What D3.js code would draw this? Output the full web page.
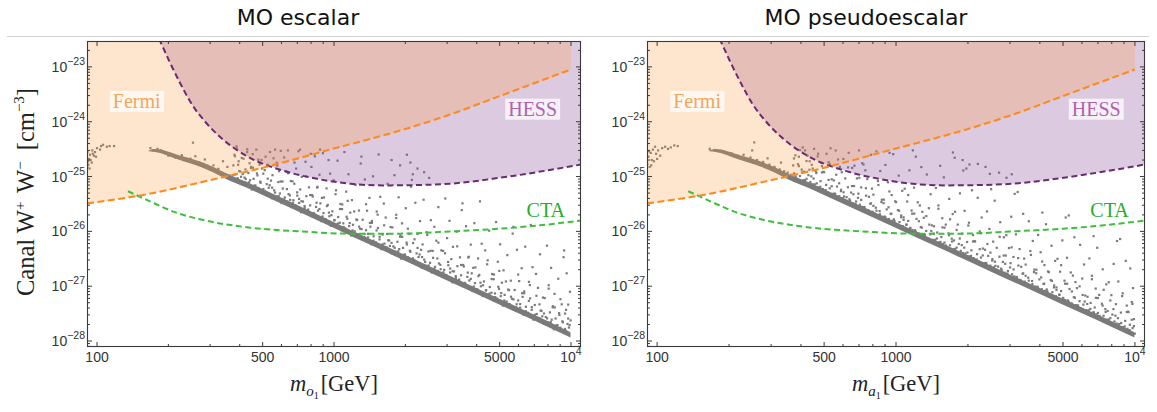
<!DOCTYPE html>
<html><head><meta charset="utf-8">
<script src="https://cdn.jsdelivr.net/npm/d3@7"></script>
<style>body{margin:0;background:#fff}svg{display:block}</style>
</head><body>
<script>
// ---------------- DATA ----------------
const panelTitles = ["MO escalar", "MO pseudoescalar"];
const xAxisSubscripts = ["o", "a"];
const xMajorTicks = [100, 500, 1000, 5000, 10000];
const xMajorLabels = [["100"], ["500"], ["1000"], ["5000"], ["10", "4"]];
const xMinorTicks = [200, 300, 400, 600, 700, 800, 900, 2000, 3000, 4000, 6000, 7000, 8000, 9000];
const yDecadeExponents = [-28, -27, -26, -25, -24, -23];
const xDomain = [90.7, 11020];
const yDomain = [7.78e-29, 2.97e-23];

// Fermi-LAT limit (GeV, cm^3/s)
const fermiMass  = [90.7, 168, 272, 501, 961, 1897, 3083, 5012, 10000];
const fermiSigma = [3.24e-26, 4.9e-26, 7.8e-26, 1.45e-25, 3.1e-25, 6.9e-25, 1.35e-24, 2.95e-24, 9.0e-24];
// HESS limit
const hessMass  = [176, 184.5, 224, 252, 286, 330, 442, 610, 848, 1170, 1611, 2240, 3080, 5010, 11020];
const hessSigma = [4.7e-23, 2.97e-23, 5.1e-24, 2.04e-24, 1.0e-24, 5.3e-25, 2.2e-25, 1.28e-25, 9.1e-26, 7.4e-26, 6.9e-26, 7.0e-26, 7.4e-26, 9.5e-26, 1.66e-25];
// CTA projection
const ctaMass  = [135, 168, 213, 272, 442, 719, 1170, 1900, 3080, 5010, 7400, 11020];
const ctaSigma = [5.4e-26, 3.5e-26, 2.24e-26, 1.66e-26, 1.17e-26, 1.0e-26, 9.1e-27, 9.1e-27, 1.0e-26, 1.12e-26, 1.29e-26, 1.58e-26];

// Dense lower band of the scan (sigma in units of 1e-27 cm^3/s)
const SIGMA_UNIT = 1e-27;
const bandMass = [165, 176, 220, 272, 310, 354, 450, 610, 1000, 1500, 2500, 4000, 6000, 8000, 9950];
const bandLow  = [290, 282, 205, 151, 118, 88, 56.8, 30.9, 11.5, 5.11, 1.84, 0.72, 0.32, 0.18, 0.116];
const bandHigh = [300, 318, 248, 188, 149, 112, 72.7, 39.6, 14.7, 6.54, 2.36, 0.92, 0.41, 0.23, 0.145];

// Scan points [mass GeV, sigma in 1e-27 cm^3/s]
const scalarPoints = [
[91.6,190],[92,165],[93.4,250],[95,180],[96,260],[98,280],[99,230],[100,330],[103,310],[104,360],[106,380],[110,350],[113,360],[118,360],[90.5,230],[91,150],[92.5,210],[94,200],[97,240],[91,280],[93,140],[95.5,300],
[168,330],[180,320],[186,300],[195,275],[205,255],[212,235],[225,215],[238,195],[250,185],[262,172],[275,160],[290,145],[300,135],[315,125],[330,113],[345,104],[360,97],[254,415],[340,190],[355,150],[285,205],[260,235],[310,160],[325,138],[228,245],[248,212],[270,180],[292,158],[335,120],[350,110],[362,105],[240,205],[258,190],[282,170],[305,140],[322,128],[172,300],[200,240],[215,220],[232,200],
[388,355],[564,310],[719,310],[873,310],[2030,250],[2100,180],[2250,140],[2150,110],[1900,160],[2400,120],[1750,200],
[371,86.5],[393,92.4],[405,99.1],[383,109],[398,126],[376,160],[408,218],[388,328],[380,250],[396,190],
[412,71.8],[426,77.3],[442,85.5],[419,95.8],[435,116],[447,150],[415,212],[430,280],[440,175],[423,135],
[450,57.9],[480,61.3],[466,68.7],[490,77.2],[458,90.9],[473,114],[485,165],[454,256],[470,310],[494,200],
[499,49.7],[510,54.4],[530,62.4],[520,72.7],[542,84.4],[503,113],[525,164],[537,281],[514,230],[497,140],
[547,40.2],[571,43.3],[591,49.1],[559,56.1],[582,79.3],[550,106],[576,159],[596,294],[556,215],[586,125],
[601,32.9],[635,35.1],[653,37.6],[620,41.5],[643,47.9],[608,60.6],[657,82.9],[627,124],[616,223],[639,300],
[663,27.7],[686,29.8],[712,33],[674,37],[700,44.9],[720,58.1],[668,81.8],[692,140],[708,290],[681,180],
[726,22.3],[775,23.7],[752,26.5],[793,29.8],[739,35],[764,43.8],[784,63.5],[731,98.6],[758,186],[798,260],
[806,19.1],[824,20.9],[856,23.9],[840,27.9],[876,32.4],[813,43.2],[848,63],[868,108],[830,234],[803,150],
[883,15.4],[923,16.6],[956,18.9],[903,21.5],[941,30.4],[889,40.8],[930,60.9],[963,113],[898,267],[948,200],
[972,12.6],[1028,13.4],[1058,14.4],[1003,15.9],[1041,18.3],[984,23.2],[1065,31.7],[1015,47.6],[996,85.4],[1035,195],
[1076,10.5],[1114,11.3],[1158,12.5],[1094,14],[1138,17],[1171,22],[1083,31],[1125,53],[1151,110],[1106,280],
[1181,8.43],[1259,8.92],[1223,10],[1288,11.2],[1202,13.2],[1242,16.5],[1274,24],[1190,37.2],[1233,70.2],[1296,173],
[1310,7.21],[1339,7.89],[1391,9.04],[1365,10.5],[1424,12.2],[1321,16.3],[1378,23.8],[1411,40.8],[1349,88.4],[1305,231],
[1435,5.84],[1502,6.29],[1556,7.14],[1469,8.15],[1532,11.5],[1445,15.5],[1514,23],[1568,42.7],[1460,101],[1543,253],
[1583,4.74],[1673,5.06],[1721,5.43],[1633,5.98],[1694,6.9],[1602,8.74],[1732,12],[1652,17.9],[1622,32.2],[1684,73.6],
[1749,3.99],[1812,4.29],[1884,4.75],[1780,5.32],[1852,6.46],[1906,8.36],[1762,11.8],[1830,20.1],[1873,41.8],[1799,106],
[1922,3.18],[2052,3.37],[1992,3.78],[2100,4.24],[1956,4.99],[2024,6.24],[2076,9.05],[1936,14],[2008,26.5],[2114,65.5],
[2138,2.71],[2186,2.97],[2274,3.4],[2230,3.97],[2329,4.61],[2155,6.14],[2252,8.96],[2307,15.4],[2204,33.3],[2129,87],
[2347,2.18],[2455,2.35],[2542,2.67],[2402,3.05],[2503,4.31],[2364,5.78],[2474,8.61],[2561,16],[2388,37.8],[2520,94.5],
[2585,1.78],[2737,1.9],[2818,2.04],[2669,2.25],[2772,2.6],[2618,3.29],[2837,4.5],[2702,6.75],[2650,12.1],[2756,27.7],
[2865,1.49],[2970,1.6],[3090,1.78],[2916,1.99],[3036,2.41],[3126,3.12],[2886,4.4],[3000,7.53],[3072,15.6],[2949,39.8],
[3153,1.18],[3361,1.25],[3265,1.4],[3438,1.58],[3208,1.86],[3316,2.32],[3400,3.36],[3176,5.22],[3291,9.86],[3460,24.4],
[3499,1.01],[3578,1.11],[3722,1.27],[3650,1.48],[3812,1.72],[3528,2.29],[3686,3.34],[3776,5.73],[3607,12.4],[3484,32.5],
[3842,0.815],[4022,0.878],[4166,0.996],[3934,1.14],[4102,1.61],[3870,2.16],[4054,3.21],[4198,5.96],[3910,14.1],[4130,35.3],
[4239,0.662],[4485,0.707],[4617,0.759],[4375,0.836],[4542,0.965],[4292,1.22],[4648,1.67],[4428,2.51],[4344,4.5],[4516,10.3],
[4694,0.553],[4862,0.596],[5054,0.659],[4776,0.738],[4968,0.896],[5112,1.16],[4728,1.63],[4910,2.79],[5025,5.8],[4828,14.8],
[5155,0.443],[5506,0.469],[5344,0.525],[5636,0.59],[5247,0.694],[5431,0.868],[5571,1.26],[5193,1.95],[5388,3.69],[5674,9.11],
[5737,0.376],[5867,0.412],[6103,0.472],[5985,0.55],[6250,0.639],[5784,0.852],[6044,1.24],[6192,2.13],[5914,4.62],[5714,12.1],
[6300,0.304],[6592,0.327],[6826,0.371],[6449,0.423],[6722,0.599],[6345,0.803],[6644,1.2],[6878,2.22],[6410,5.26],[6768,13.1],
[6944,0.246],[7348,0.263],[7564,0.282],[7168,0.311],[7441,0.359],[7031,0.454],[7614,0.621],[7254,0.932],[7117,1.67],[7398,3.82],
[7690,0.206],[7970,0.221],[8290,0.245],[7826,0.274],[8146,0.333],[8386,0.431],[7746,0.608],[8050,1.04],[8242,2.16],[7914,5.49],
[8459,0.164],[9031,0.174],[8767,0.195],[9242,0.219],[8608,0.258],[8908,0.322],[9136,0.467],[8520,0.725],[8837,1.37],[9304,3.38],
[9384,0.14],[9531,0.153],[9799,0.176],[9665,0.205],[9967,0.238],[9437,0.317],[9732,0.462],[9900,0.792],[9585,1.72],[9357,4.49]
];
const scalarPointsMid = [
[388,91.6],[376,106],[402,124],[394,164],[382,235],[438,78],[424,90.3],[412,111],[446,144],[430,315],[461,68.2],[488,80.7],[475,105],[455,145],[479,204],
[518,51.1],[503,59.1],[535,69.4],[525,91.5],[510,131],[584,44.1],[564,51.1],[548,62.7],[595,81.3],[573,178],[615,38.3],[651,45.3],[633,59],[606,81.3],[639,115],
[689,28.8],[670,33.3],[712,39.1],[699,51.5],[680,73.9],[778,25],[751,28.9],[729,35.5],[793,46],[763,101],[820,21.6],[868,25.6],[844,33.3],[808,45.9],[852,64.8],
[920,16.2],[894,18.7],[952,22],[934,29],[907,41.6],[1040,13.9],[1005,16.1],[975,19.8],[1060,25.6],[1020,56.1],[1098,12],[1164,14.2],[1130,18.5],[1081,25.5],[1142,36],
[1234,9],[1198,10.4],[1276,12.2],[1252,16.1],[1216,23.1],[1391,7.75],[1346,8.98],[1307,11],[1417,14.3],[1365,31.3],[1468,6.74],[1558,7.98],[1512,10.4],[1445,14.3],[1528,20.2],
[1652,5.01],[1604,5.8],[1708,6.81],[1676,8.97],[1628,12.9],[1866,4.33],[1803,5.02],[1749,6.16],[1902,7.98],[1830,17.5],[1970,3.74],[2090,4.43],[2030,5.77],[1940,7.96],[2050,11.2],
[2219,2.79],[2153,3.23],[2296,3.79],[2252,4.99],[2186,7.17],[2508,2.39],[2424,2.77],[2352,3.4],[2556,4.41],[2460,9.66],[2648,2.08],[2810,2.46],[2729,3.2],[2607,4.41],[2756,6.23],
[2985,1.55],[2895,1.79],[3090,2.1],[3030,2.77],[2940,3.98],[3374,1.32],[3262,1.53],[3166,1.88],[3438,2.44],[3310,5.34],[3560,1.15],[3776,1.36],[3668,1.77],[3506,2.44],[3704,3.44],
[4010,0.855],[3890,0.988],[4150,1.16],[4070,1.53],[3950,2.2],[4538,0.733],[4384,0.849],[4252,1.04],[4626,1.35],[4450,2.96],[4790,0.632],[5078,0.748],[4934,0.975],[4718,1.34],[4982,1.9],
[5393,0.473],[5231,0.547],[5582,0.642],[5474,0.846],[5312,1.22],[6103,0.405],[5897,0.469],[5720,0.575],[6221,0.746],[5985,1.63],[6443,0.35],[6833,0.415],[6638,0.54],[6345,0.745],[6703,1.05],
[7254,0.261],[7038,0.301],[7506,0.354],[7362,0.466],[7146,0.669],[8210,0.223],[7930,0.259],[7690,0.318],[8370,0.412],[8050,0.902],[8670,0.193],[9198,0.229],[8934,0.298],[8538,0.411],[9022,0.58],
[9632,0.144],[9430,0.166],[9866,0.195],[9732,0.257],[9531,0.37]
];
const pseudoPoints = [
[91,170],[92,230],[93,150],[94,270],[95,200],[96,310],[97,190],[99,260],[101,300],[103,240],[105,330],[108,350],[111,320],[114,340],[118,370],[122,360],[92.5,290],[94.5,160],[98,350],[100,210],
[166,320],[174,305],[183,290],[192,270],[203,250],[214,228],[226,210],[240,196],[253,182],[268,168],[282,155],[298,140],[312,128],[328,116],[342,106],[358,99],[230,250],[246,222],[262,200],[278,185],[295,165],[310,150],[326,135],[340,125],[352,118],[365,108],[205,265],[218,240],[250,300],[290,215],[330,180],[255,420],
[1730,275],[1760,220],[2030,166],[2200,170],[2370,150],[2470,112],[2700,118],[3050,110],[2900,95],[1900,200],
[409,85.7],[384,90.7],[396,102],[374,114],[403,134],[389,168],[379,244],[407,340],[392,230],[371,160],
[447,72.5],[438,79.3],[422,91],[430,106],[412,123],[444,164],[426,239],[416,300],[435,190],[448,140],
[494,59.1],[473,63.6],[457,72.1],[483,82.4],[464,116],[490,156],[470,233],[454,320],[486,180],[461,125],
[544,48.3],[516,51.6],[501,55.3],[528,61],[510,70.4],[538,89.1],[497,122],[522,183],[532,328],[512,260],
[597,40.6],[578,43.7],[556,48.4],[588,54.2],[566,65.8],[549,85.1],[593,120],[572,205],[559,300],[582,150],
[659,32.5],[620,34.5],[638,38.6],[606,43.4],[649,51],[629,63.8],[613,92.5],[655,144],[634,271],[602,210],
[720,28],[706,30.6],[680,35.1],[693,40.9],[663,47.5],[715,63.4],[686,92.4],[670,158],[700,300],[722,175],
[798,22.8],[764,24.5],[737,27.8],[781,31.8],[749,44.9],[793,60.2],[758,89.8],[731,166],[785,250],[744,130],
[878,18.5],[834,19.8],[810,21.2],[854,23.4],[823,27],[869,34.2],[804,46.8],[844,70.2],[859,126],[828,288],
[966,15.6],[934,16.8],[898,18.6],[950,20.8],[914,25.2],[887,32.7],[959,46],[925,78.7],[903,163],[940,270],
[1069,12.4],[1004,13.2],[1034,14.8],[980,16.6],[1052,19.5],[1018,24.4],[992,35.4],[1062,54.9],[1026,104],[973,256],
[1171,10.6],[1147,11.6],[1103,13.3],[1125,15.5],[1076,18],[1162,24],[1114,35],[1087,60],[1138,130],[1176,300],
[1296,8.59],[1242,9.25],[1199,10.5],[1269,12],[1218,16.9],[1288,22.7],[1233,33.9],[1190,62.8],[1276,149],[1210,230],
[1427,7],[1355,7.48],[1316,8.02],[1387,8.84],[1338,10.2],[1412,12.9],[1307,17.7],[1372,26.5],[1396,47.6],[1346,109],
[1573,5.9],[1520,6.35],[1460,7.03],[1547,7.87],[1487,9.55],[1442,12.4],[1562,17.4],[1505,29.8],[1469,61.8],[1531,157],
[1738,4.69],[1634,4.97],[1682,5.57],[1596,6.26],[1711,7.36],[1657,9.2],[1615,13.3],[1727,20.7],[1670,39.1],[1585,96.6],
[1906,4.03],[1866,4.41],[1794,5.05],[1830,5.89],[1749,6.84],[1891,9.12],[1812,13.3],[1767,22.8],[1852,49.4],[1913,129],
[2114,3.24],[2024,3.49],[1952,3.96],[2068,4.52],[1984,6.4],[2100,8.58],[2008,12.8],[1936,23.7],[2080,56.2],[1970,140],
[2336,2.64],[2212,2.82],[2146,3.02],[2267,3.33],[2184,3.84],[2309,4.86],[2131,6.66],[2241,9.98],[2283,17.9],[2197,41],
[2568,2.21],[2484,2.37],[2388,2.63],[2527,2.94],[2431,3.57],[2359,4.62],[2551,6.51],[2460,11.1],[2402,23.1],[2501,58.8],
[2847,1.76],[2672,1.87],[2753,2.09],[2607,2.35],[2801,2.77],[2710,3.46],[2639,5.02],[2828,7.79],[2731,14.7],[2588,36.3],
[3126,1.51],[3060,1.65],[2940,1.89],[3000,2.2],[2865,2.56],[3102,3.41],[2970,4.97],[2895,8.52],[3036,18.5],[3138,48.3],
[3460,1.21],[3316,1.3],[3201,1.47],[3387,1.68],[3252,2.38],[3438,3.19],[3291,4.76],[3176,8.82],[3406,20.9],[3230,52.2],
[3823,0.984],[3621,1.05],[3513,1.13],[3711,1.24],[3574,1.43],[3780,1.81],[3488,2.48],[3668,3.72],[3736,6.69],[3596,15.3],
[4210,0.823],[4070,0.886],[3910,0.98],[4142,1.1],[3982,1.33],[3862,1.72],[4182,2.43],[4030,4.16],[3934,8.62],[4098,22],
[4666,0.656],[4380,0.694],[4512,0.778],[4274,0.874],[4591,1.03],[4441,1.29],[4327,1.86],[4635,2.89],[4476,5.47],[4243,13.5],
[5112,0.559],[5006,0.611],[4814,0.701],[4910,0.817],[4694,0.949],[5073,1.26],[4862,1.84],[4742,3.16],[4968,6.85],[5131,17.9],
[5674,0.451],[5431,0.486],[5236,0.551],[5550,0.629],[5323,0.89],[5636,1.19],[5388,1.78],[5193,3.3],[5582,7.81],[5285,19.5],
[6268,0.366],[5938,0.391],[5761,0.419],[6085,0.462],[5861,0.533],[6197,0.675],[5720,0.923],[6015,1.38],[6127,2.49],[5897,5.68],
[6898,0.307],[6670,0.33],[6410,0.365],[6787,0.409],[6527,0.496],[6332,0.642],[6852,0.905],[6605,1.55],[6449,3.21],[6716,8.18],
[7643,0.244],[7175,0.258],[7391,0.289],[7002,0.325],[7520,0.382],[7276,0.478],[7088,0.693],[7592,1.08],[7333,2.03],[6952,5.02],
[8386,0.208],[8210,0.227],[7890,0.261],[8050,0.304],[7690,0.353],[8322,0.47],[7970,0.686],[7770,1.18],[8146,2.55],[8418,6.66],
[9304,0.167],[8908,0.18],[8591,0.204],[9101,0.233],[8732,0.33],[9242,0.443],[8837,0.66],[8520,1.22],[9154,2.9],[8670,7.25],
[9987,0.136],[9611,0.145],[9410,0.156],[9779,0.172],[9524,0.198],[9906,0.251],[9364,0.343],[9699,0.515],[9826,0.924],[9565,2.11]
];
const pseudoPointsMid = [
[380,101],[404,119],[392,155],[374,214],[396,302],[428,74.6],[416,86.2],[442,101],[434,133],[422,192],[482,64.8],[466,75],[452,92],[490,119],[472,261],
[508,56.3],[538,66.6],[522,86.8],[500,120],[528,169],[570,42.2],[553,48.8],[589,57.3],[578,75.5],[562,108],[642,36.4],[621,42.1],[603,51.7],[654,67],[630,147],
[676,31.7],[715,37.5],[696,48.8],[667,67.3],[702,95],[759,23.9],[736,27.6],[785,32.4],[770,42.7],[748,61.3],[856,20.5],[828,23.8],[804,29.2],[872,37.8],[840,82.8],
[902,17.8],[956,21.1],[930,27.5],[889,37.9],[938,53.5],[1015,13.3],[985,15.4],[1050,18.1],[1030,23.8],[1000,34.2],[1147,11.4],[1108,13.2],[1076,16.2],[1169,21],[1125,46],
[1210,9.91],[1282,11.7],[1246,15.3],[1192,21.1],[1258,29.7],[1358,7.41],[1320,8.57],[1404,10.1],[1378,13.3],[1339,19],[1535,6.41],[1482,7.42],[1438,9.1],[1565,11.8],[1505,25.9],
[1620,5.52],[1716,6.53],[1668,8.51],[1596,11.7],[1684,16.6],[1821,4.14],[1767,4.79],[1884,5.62],[1848,7.41],[1794,10.6],[2060,3.56],[1990,4.12],[1930,5.05],[2100,6.55],[2020,14.4],
[2175,3.07],[2307,3.64],[2241,4.74],[2142,6.53],[2263,9.22],[2448,2.29],[2376,2.65],[2532,3.11],[2484,4.1],[2412,5.88],[2769,1.97],[2675,2.28],[2594,2.8],[2823,3.63],[2715,7.96],
[2925,1.7],[3105,2.02],[3015,2.63],[2880,3.62],[3045,5.11],[3294,1.26],[3198,1.46],[3406,1.72],[3342,2.26],[3246,3.25],[3722,1.09],[3596,1.26],[3488,1.55],[3794,2.01],[3650,4.39],
[3930,0.941],[4170,1.11],[4050,1.45],[3870,2],[4090,2.82],[4428,0.701],[4296,0.81],[4582,0.952],[4494,1.25],[4362,1.8],[5006,0.601],[4838,0.696],[4694,0.854],[5102,1.11],[4910,2.42],
[5285,0.521],[5609,0.616],[5447,0.803],[5204,1.11],[5501,1.56],[5956,0.387],[5779,0.447],[6162,0.525],[6044,0.692],[5867,0.994],[6735,0.333],[6508,0.385],[6313,0.473],[6865,0.613],[6605,1.34],
[7110,0.287],[7542,0.339],[7326,0.442],[7002,0.609],[7398,0.86],[8010,0.214],[7770,0.247],[8290,0.29],[8130,0.382],[7890,0.549],[9066,0.184],[8758,0.213],[8494,0.261],[9242,0.338],[8890,0.741],
[9498,0.158],[9900,0.187],[9699,0.244],[9397,0.337],[9766,0.475]
];

// region labels [text, mass, sigma]
const regionLabels = [["Fermi", 147, 2.4e-24], ["HESS", 6890, 1.73e-24], ["CTA", 7830, 2.5e-26]];

// ---------------- DRAW ----------------
const W = 1157, H = 412, TOP = 41, BOTTOM = 347;
const panels = [
  {x0: 87, x1: 581, titleX: 298, pts: scalarPoints.concat(scalarPointsMid)},
  {x0: 647, x1: 1145, titleX: 866, pts: pseudoPoints.concat(pseudoPointsMid)}
];
const C = {
  pt: "#7a7a7a", fermiFill: "rgb(251,151,59)", hessFill: "rgb(138,82,152)",
  fermiLine: "#ff8a1c", hessLine: "#6a2b74", ctaLine: "#3dbf3d",
  fermiText: "#f7a55a", hessText: "#b062b0", ctaText: "#25ad25", axis: "#3a3a3a", tick: "#333"
};
const sans = "'Liberation Sans', Arial, sans-serif";
const serif = "'Liberation Serif', 'Times New Roman', serif";

const svg = d3.select("body").append("svg").attr("width", W).attr("height", H);
svg.append("line").attr("x1", 7).attr("x2", 1149).attr("y1", 36.5).attr("y2", 36.5).attr("stroke", "#d2d2d2").attr("stroke-width", 1);

function rich(text, parts) {
  let shift = 0;
  parts.forEach(p => {
    const ts = text.append("tspan").text(p.t);
    const target = p.dy || 0;
    if (target !== shift) ts.attr("dy", target - shift);
    shift = target;
    if (p.size) ts.attr("font-size", p.size);
    if (p.italic) ts.attr("font-style", "italic");
    if (p.dx) ts.attr("dx", p.dx);
  });
}

const yMinor = [];
for (let e = -29; e <= -23; e++) for (let k = 2; k <= 9; k++) {
  const v = k * Math.pow(10, e);
  if (v > yDomain[0] && v < yDomain[1]) yMinor.push(v);
}

panels.forEach((p, i) => {
  const x = d3.scaleLog().domain(xDomain).range([p.x0, p.x1]);
  const y = d3.scaleLog().domain(yDomain).range([BOTTOM, TOP]);
  const g = svg.append("g");
  const clipId = "clip" + i;
  svg.append("clipPath").attr("id", clipId).append("rect")
    .attr("x", p.x0).attr("y", TOP).attr("width", p.x1 - p.x0).attr("height", BOTTOM - TOP);
  const plot = g.append("g").attr("clip-path", `url(#${clipId})`);

  // dense band
  const bi = d3.range(bandMass.length);
  plot.append("path").datum(bi)
    .attr("d", d3.area().x(j => x(bandMass[j])).y0(j => y(bandLow[j] * SIGMA_UNIT)).y1(j => y(bandHigh[j] * SIGMA_UNIT)).curve(d3.curveMonotoneX))
    .attr("fill", C.pt);
  // points
  plot.selectAll("rect.pt").data(p.pts).join("rect").attr("class", "pt")
    .attr("x", d => x(d[0]) - 1.1).attr("y", d => y(d[1] * SIGMA_UNIT) - 1.1)
    .attr("width", 2.2).attr("height", 2.2).attr("fill", C.pt);

  // HESS excluded region
  const hi = d3.range(hessMass.length);
  plot.append("path").datum(hi)
    .attr("d", d3.area().x(j => x(hessMass[j])).y0(TOP - 10).y1(j => y(hessSigma[j])).curve(d3.curveMonotoneX))
    .attr("fill", C.hessFill).attr("fill-opacity", 0.3);
  // Fermi excluded region
  const fi = d3.range(fermiMass.length);
  plot.append("path").datum(fi)
    .attr("d", d3.area().x(j => x(fermiMass[j])).y0(TOP - 10).y1(j => y(fermiSigma[j])).curve(d3.curveMonotoneX))
    .attr("fill", C.fermiFill).attr("fill-opacity", 0.25);

  // limit lines
  const line = (ms, ss) => d3.line().x(j => x(ms[j])).y(j => y(ss[j])).curve(d3.curveMonotoneX)(d3.range(ms.length));
  plot.append("path").attr("d", line(ctaMass, ctaSigma)).attr("fill", "none").attr("stroke", C.ctaLine).attr("stroke-width", 2).attr("stroke-dasharray", "6,3.5");
  plot.append("path").attr("d", line(hessMass, hessSigma)).attr("fill", "none").attr("stroke", C.hessLine).attr("stroke-width", 2).attr("stroke-dasharray", "6,3.5");
  plot.append("path").attr("d", line(fermiMass, fermiSigma)).attr("fill", "none").attr("stroke", C.fermiLine).attr("stroke-width", 2.1).attr("stroke-dasharray", "7,3.5");

  // region labels
  const colors = [C.fermiText, C.hessText, C.ctaText];
  regionLabels.forEach((r, k) => {
    const t = g.append("text").attr("x", x(r[1])).attr("y", y(r[2])).attr("dy", "0.35em")
      .attr("text-anchor", "middle").attr("font-family", serif).attr("font-size", 20).attr("fill", colors[k]).text(r[0]);
    if (k < 2) {
      const bb = t.node().getBBox();
      g.insert("rect", "text").attr("x", bb.x - 3).attr("y", bb.y + 1).attr("width", bb.width + 6).attr("height", bb.height - 1)
        .attr("fill", "#fff").attr("fill-opacity", 0.72);
    }
  });

  // frame
  g.append("rect").attr("x", p.x0 + 0.5).attr("y", TOP + 0.5).attr("width", p.x1 - p.x0 - 1).attr("height", BOTTOM - TOP - 1)
    .attr("fill", "none").attr("stroke", C.axis).attr("stroke-width", 1.1);

  // ticks (inward, all four sides)
  const tk = g.append("g").attr("stroke", C.axis).attr("stroke-width", 1);
  const xt = xMajorTicks.map(v => [v, 5]).concat(xMinorTicks.map(v => [v, 3]));
  xt.forEach(([v, L]) => {
    tk.append("line").attr("x1", x(v)).attr("x2", x(v)).attr("y1", BOTTOM).attr("y2", BOTTOM - L);
    tk.append("line").attr("x1", x(v)).attr("x2", x(v)).attr("y1", TOP).attr("y2", TOP + L);
  });
  const yt = yDecadeExponents.map(e => [Math.pow(10, e), 5]).concat(yMinor.map(v => [v, 3]));
  yt.forEach(([v, L]) => {
    tk.append("line").attr("y1", y(v)).attr("y2", y(v)).attr("x1", p.x0).attr("x2", p.x0 + L);
    tk.append("line").attr("y1", y(v)).attr("y2", y(v)).attr("x1", p.x1).attr("x2", p.x1 - L);
  });

  // tick labels
  xMajorTicks.forEach((v, k) => {
    const t = g.append("text").attr("x", x(v)).attr("y", 362).attr("text-anchor", "middle")
      .attr("font-family", sans).attr("font-size", 14).attr("fill", C.tick);
    const lab = xMajorLabels[k];
    rich(t, lab.length === 1 ? [{t: lab[0]}] : [{t: lab[0]}, {t: lab[1], dy: -7, size: 10.5}]);
  });
  yDecadeExponents.forEach(e => {
    const t = g.append("text").attr("x", p.x0 - 2).attr("y", y(Math.pow(10, e)) + 5).attr("text-anchor", "end")
      .attr("font-family", sans).attr("font-size", 14).attr("fill", C.tick);
    rich(t, [{t: "10"}, {t: "\u2212" + (-e), dy: -7, size: 10.5}]);
  });

  // title
  g.append("text").attr("x", p.titleX).attr("y", 25).attr("text-anchor", "middle")
    .attr("font-family", "'DejaVu Sans', sans-serif").attr("font-size", 22).attr("fill", "#111").text(panelTitles[i]);

  // x axis label
  const xl = g.append("text").attr("x", (p.x0 + p.x1) / 2).attr("y", 391).attr("text-anchor", "middle")
    .attr("font-family", serif).attr("font-size", 22.5).attr("fill", "#222");
  rich(xl, [{t: "m", italic: true}, {t: xAxisSubscripts[i], italic: true, dy: 5, size: 15}, {t: "1", dy: 8, size: 10}, {t: "[GeV]", dy: 0, dx: 2}]);
});

// y axis label
const yl = svg.append("text").attr("transform", "translate(34,192) rotate(-90)").attr("text-anchor", "middle")
  .attr("font-family", serif).attr("font-size", 24.5).attr("fill", "#222");
rich(yl, [{t: "Canal W"}, {t: "+", dy: -9, size: 15}, {t: " W", dy: 0, dx: 3}, {t: "\u2212", dy: -9, size: 15}, {t: "  [cm", dy: 0, dx: 5}, {t: "\u22123", dy: -10, size: 15}, {t: "]", dy: 0}]);
</script>
</body></html>
